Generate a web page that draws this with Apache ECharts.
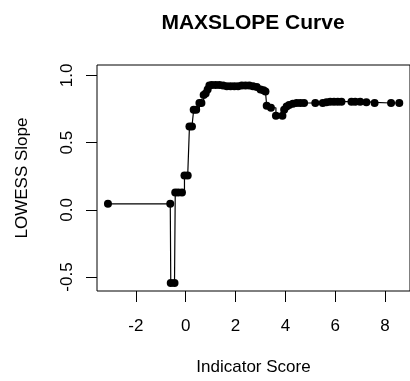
<!DOCTYPE html>
<html>
<head>
<meta charset="utf-8">
<script src="https://cdn.jsdelivr.net/npm/echarts@6/dist/echarts.min.js"></script>
<style>
html,body{margin:0;padding:0;background:#fff;}
#c{width:410px;height:381px;}
</style>
</head>
<body>
<div id="c"></div>
<script>
// Indicator score (x) and LOWESS slope (y) values
var scores = [-3.12, -0.62, -0.6, -0.45, -0.42, -0.3, -0.15, -0.05, 0.08, 0.15, 0.25, 0.32, 0.42, 0.55, 0.63, 0.72, 0.8, 0.88, 0.95, 1.05, 1.2, 1.35, 1.5, 1.65, 1.8, 1.95, 2.1, 2.25, 2.4, 2.55, 2.7, 2.85, 3.0, 3.12, 3.2, 3.25, 3.42, 3.62, 3.88, 3.95, 4.05, 4.15, 4.3, 4.45, 4.6, 4.75, 5.2, 5.5, 5.65, 5.8, 5.95, 6.1, 6.25, 6.65, 6.8, 7.0, 7.25, 7.58, 8.24, 8.57];
var slopes = [0.045, 0.045, -0.545, -0.545, 0.13, 0.13, 0.13, 0.255, 0.255, 0.62, 0.62, 0.745, 0.745, 0.795, 0.795, 0.855, 0.865, 0.895, 0.925, 0.93, 0.93, 0.93, 0.925, 0.92, 0.92, 0.92, 0.92, 0.925, 0.925, 0.925, 0.92, 0.915, 0.895, 0.89, 0.88, 0.775, 0.76, 0.7, 0.7, 0.745, 0.77, 0.78, 0.79, 0.795, 0.795, 0.795, 0.795, 0.795, 0.8, 0.805, 0.805, 0.805, 0.805, 0.805, 0.805, 0.805, 0.8, 0.795, 0.795, 0.795];
var xTicks = [-2, 0, 2, 4, 6, 8];
var yTicks = [-0.5, 0, 0.5, 1.0];
var titleText = 'MAXSLOPE Curve';
var xName = 'Indicator Score';
var yName = 'LOWESS Slope';

var pts = scores.map(function (x, i) { return [x, slopes[i]]; });
var FONT = '"Liberation Sans", Arial, sans-serif';

var chart = echarts.init(document.getElementById('c'), null, {renderer: 'canvas'});
chart.setOption({
  animation: false,
  backgroundColor: '#fff',
  grid: {left: 97, top: 65, bottom: 89, right: -4, show: true, borderColor: '#000', borderWidth: 1, backgroundColor: 'transparent'},
  graphic: [{
    type: 'text', x: 253, y: 23,
    style: {text: titleText, font: 'bold 21px ' + FONT, fill: '#000', textAlign: 'center', textVerticalAlign: 'middle'}
  }],
  xAxis: {
    type: 'value', min: -3.56, max: 9,
    name: xName, nameLocation: 'middle', nameGap: 68,
    nameTextStyle: {fontFamily: FONT, fontSize: 17, color: '#000'},
    axisLine: {show: false, onZero: false},
    axisTick: {show: true, inside: false, length: 11, lineStyle: {color: '#000', width: 1}, customValues: xTicks},
    axisLabel: {show: true, margin: 27, fontFamily: FONT, fontSize: 17, color: '#000', customValues: xTicks,
      formatter: function (v) { return String(v); }},
    splitLine: {show: false}
  },
  yAxis: {
    type: 'value', min: -0.604, max: 1.078,
    name: yName, nameLocation: 'middle', nameGap: 66, nameRotate: 90,
    nameTextStyle: {fontFamily: FONT, fontSize: 17, color: '#000'},
    axisLine: {show: false, onZero: false},
    axisTick: {show: true, inside: false, length: 11, lineStyle: {color: '#000', width: 1}, customValues: yTicks},
    axisLabel: {show: true, margin: 21, rotate: 90, fontFamily: FONT, fontSize: 17, color: '#000', customValues: yTicks,
      formatter: function (v) { return v.toFixed(1); }},
    splitLine: {show: false}
  },
  series: [{
    type: 'line', data: pts, step: 'end',
    symbol: 'circle', symbolSize: 8, showAllSymbol: true,
    itemStyle: {color: '#000'},
    lineStyle: {color: '#000', width: 1.2},
    clip: true
  }]
});
</script>
</body>
</html>
